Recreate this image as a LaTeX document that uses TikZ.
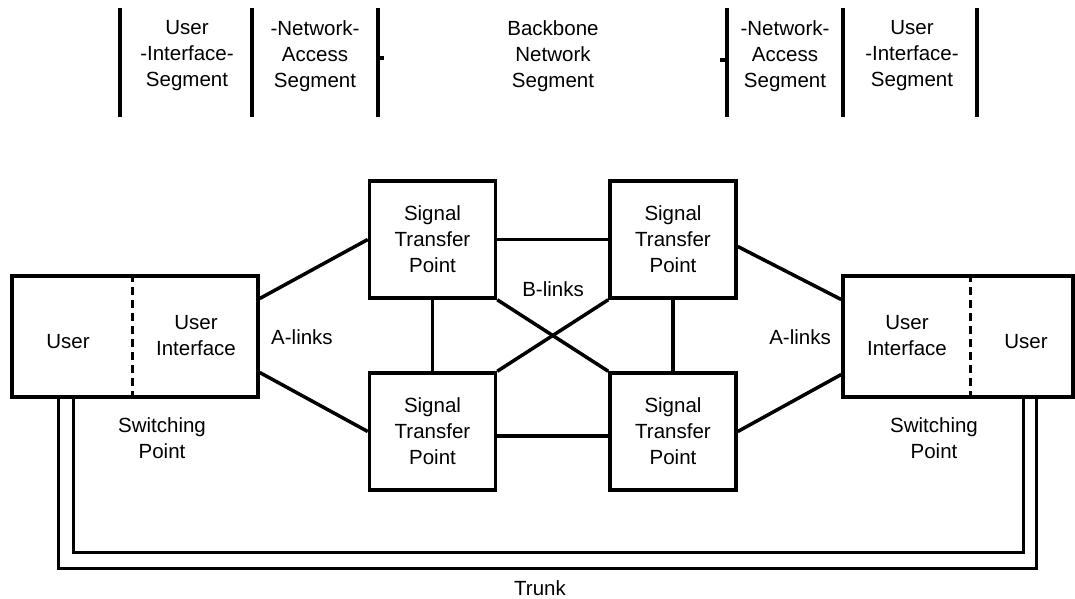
\documentclass[tikz,border=0pt]{standalone}
\usepackage{fontspec}
\setmainfont{Liberation Sans}
\begin{document}
\begin{tikzpicture}[x=1pt, y=-1pt,
    lbl/.style={align=center, inner sep=0pt, font=\fontsize{20.5}{26}\selectfont},
    box/.style={draw, line width=3.5pt, inner sep=0pt},
    stp/.style={box, minimum width=126pt, minimum height=117pt, align=center, font=\fontsize{20.5}{26}\selectfont},
    link/.style={line width=3.5pt},
    bar/.style={line width=4pt},
    divider/.style={line width=3pt, dash pattern=on 8pt off 5pt},
    trunkline/.style={line width=3pt}]
    \useasboundingbox (0,0) rectangle (1075,598);
    % segment header
    \foreach \x in {120,252,378,727,843,977}
      \draw[bar] (\x,8) -- (\x,117);
    \draw[bar] (378,58) -- ++(6,0);
    \draw[bar] (727,60) -- ++(-7,0);
    \node[lbl] (segUIL) at (187,56) {User\\-Interface-\\Segment};
    \node[lbl] (segNAL) at (315,56) {-Network-\\Access\\Segment};
    \node[lbl] (segBB) at (553,56) {Backbone\\Network\\Segment};
    \node[lbl] (segNAR) at (785,56) {-Network-\\Access\\Segment};
    \node[lbl] (segUIR) at (912,56) {User\\-Interface-\\Segment};
    % switching points
    \node[box, minimum width=246pt, minimum height=121pt] (spL) at (135,336.5) {};
    \node[box, minimum width=230pt, minimum height=121pt] (spR) at (958,336.5) {};
    \coordinate (divL) at (132,0);
    \coordinate (divR) at (970,0);
    \draw[divider] (spL.north -| divL) -- (spL.south -| divL);
    \draw[divider] (spR.north -| divR) -- (spR.south -| divR);
    \node[lbl] (userL) at (68,342) {User};
    \node[lbl] (uiL) at (196,336) {User\\Interface};
    \node[lbl] (uiR) at (907,336) {User\\Interface};
    \node[lbl] (userR) at (1026,342) {User};
    \node[lbl] (swL) at (162,438) {Switching\\Point};
    \node[lbl] (swR) at (934,438) {Switching\\Point};
    % signal transfer points
    \node[stp] (stpTL) at (432.5,239.5) {Signal\\Transfer\\Point};
    \node[stp] (stpTR) at (673,239.5) {Signal\\Transfer\\Point};
    \node[stp] (stpBL) at (432.5,431.5) {Signal\\Transfer\\Point};
    \node[stp] (stpBR) at (673,431.5) {Signal\\Transfer\\Point};
    % A-links
    \draw[link] ([yshift=38pt]spL.east) -- (stpTL.west);
    \draw[link] ([yshift=-36pt]spL.east) -- (stpBL.west);
    \draw[link] ([yshift=-7pt]stpTR.east) -- ([yshift=37pt]spR.west);
    \draw[link] (stpBR.east) -- ([yshift=-38pt]spR.west);
    \node[lbl] (alinkL) at (302,337) {A-links};
    \node[lbl] (alinkR) at (800,337) {A-links};
    % B-links
    \draw[link] (stpTL) -- (stpTR);
    \draw[link] ([yshift=-4.5pt]stpBL.east) -- ([yshift=-4.5pt]stpBR.west);
    \draw[link] (stpTL) -- (stpBL);
    \draw[link] (stpTR) -- (stpBR);
    \draw[link] (stpTL.south east) -- (stpBR.north west);
    \draw[link] (stpTR.south west) -- (stpBL.north east);
    \node[lbl] (blink) at (553,289) {B-links};
    % trunk
    \draw[trunkline] ([xshift=48pt]spL.south west) -- ++(0,170) -| ([xshift=195pt]spR.south west);
    \draw[trunkline] ([xshift=63pt]spL.south west) -- ++(0,154) -| ([xshift=182pt]spR.south west);
    \node[lbl] (trunk) at (540,588) {Trunk};
\end{tikzpicture}
\end{document}
